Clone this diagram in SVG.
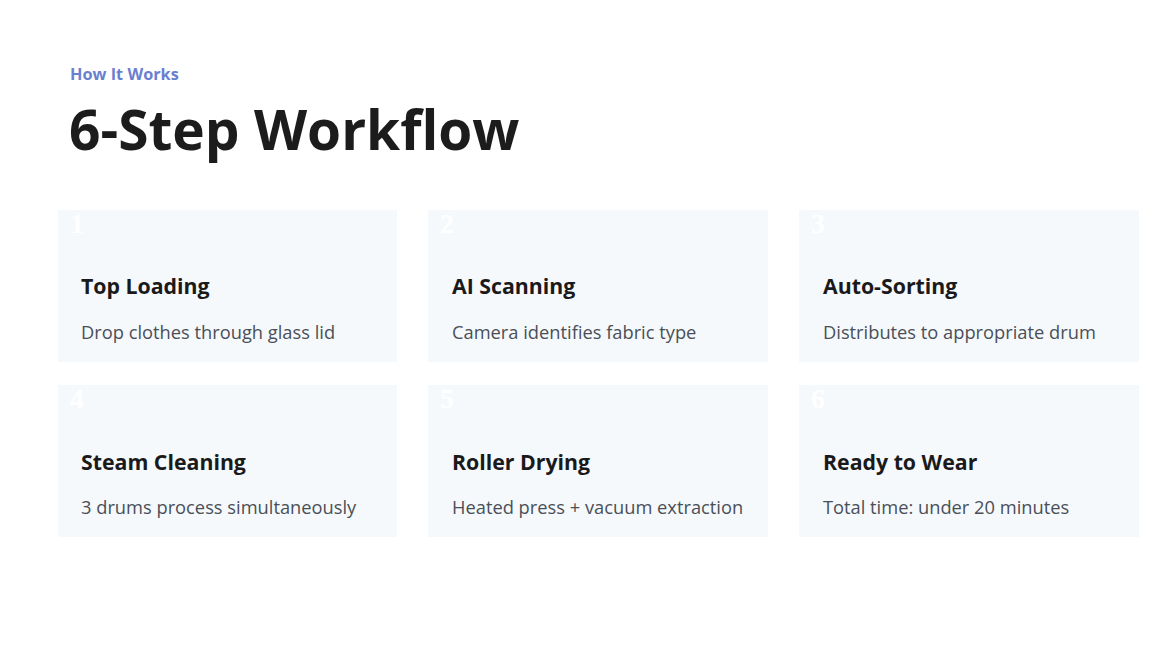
<svg xmlns="http://www.w3.org/2000/svg" width="1163" height="652" viewBox="0 0 1163 652">
<style>
.eyebrow{font-family:"Open Sans","Noto Sans",sans-serif;font-weight:700;font-size:16.3px;fill:#6b7fcf}
.h1{font-family:"Open Sans","Noto Sans",sans-serif;font-weight:700;font-size:55px;fill:#1c1c1c}
.card{fill:#f5f9fc}
.num{font-family:"Liberation Serif",serif;font-weight:700;font-size:28px;fill:#ffffff}
.t{font-family:"Open Sans","Noto Sans",sans-serif;font-weight:700;font-size:21.3px;fill:#1a1a1a}
.d{font-family:"Open Sans","Noto Sans",sans-serif;font-size:18.3px;fill:#4a4f57}
</style>
<rect width="1163" height="652" fill="#ffffff"/>
<text class="eyebrow" x="70" y="80">How It Works</text>
<text class="h1" x="69" y="150">6-Step Workflow</text>
<g id="step1"><rect class="card" x="58" y="210" width="339" height="152"/><text class="num" x="70" y="233">1</text><text class="t" x="81" y="294">Top Loading</text><text class="d" x="81" y="339">Drop clothes through glass lid</text></g>
<g id="step2"><rect class="card" x="428" y="210" width="340" height="152"/><text class="num" x="440" y="233">2</text><text class="t" x="452" y="294">AI Scanning</text><text class="d" x="452" y="339">Camera identifies fabric type</text></g>
<g id="step3"><rect class="card" x="799" y="210" width="340" height="152"/><text class="num" x="811" y="233">3</text><text class="t" x="823" y="294">Auto-Sorting</text><text class="d" x="823" y="339">Distributes to appropriate drum</text></g>
<g id="step4"><rect class="card" x="58" y="385" width="339" height="152"/><text class="num" x="70" y="408">4</text><text class="t" x="81" y="470">Steam Cleaning</text><text class="d" x="81" y="514">3 drums process simultaneously</text></g>
<g id="step5"><rect class="card" x="428" y="385" width="340" height="152"/><text class="num" x="440" y="408">5</text><text class="t" x="452" y="470">Roller Drying</text><text class="d" x="452" y="514">Heated press + vacuum extraction</text></g>
<g id="step6"><rect class="card" x="799" y="385" width="340" height="152"/><text class="num" x="811" y="408">6</text><text class="t" x="823" y="470">Ready to Wear</text><text class="d" x="823" y="514">Total time: under 20 minutes</text></g>
<g id="connectors"/>
</svg>
